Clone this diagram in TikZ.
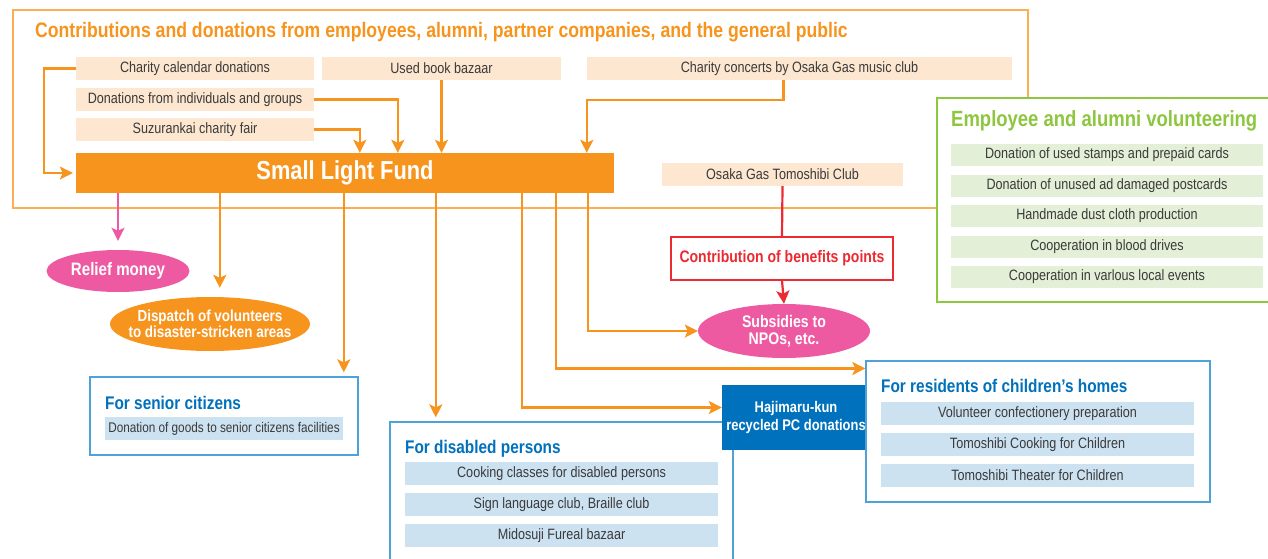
\documentclass[tikz,border=0pt]{standalone}
\usepackage{fontspec}
\setmainfont{Liberation Sans}[FakeStretch=0.84]
\usetikzlibrary{arrows.meta,calc,positioning,shapes.geometric}
\definecolor{fundorange}{HTML}{F7941D}
\definecolor{frameorange}{HTML}{FAAE55}
\definecolor{peach}{HTML}{FDE7D0}
\definecolor{reliefpink}{HTML}{EE5AA1}
\definecolor{benefitred}{HTML}{EC2A32}
\definecolor{volgreen}{HTML}{8DC63F}
\definecolor{volgreenl}{HTML}{E4EFD7}
\definecolor{kidblue}{HTML}{0071BC}
\definecolor{kidbluebd}{HTML}{4FA2D8}
\definecolor{kidbluel}{HTML}{CDE2F1}
\definecolor{txtgray}{HTML}{3A3A3A}
\newcommand\fsz[1]{\fontsize{#1}{#1}\selectfont}

\begin{document}
\begin{tikzpicture}[x=1pt,y=-1pt,>={Stealth[length=13pt,width=13pt,inset=3pt]},
  src/.style={fill=peach,inner sep=0pt,minimum height=23,text=txtgray,font=\fsz{15}},
  vol/.style={fill=volgreenl,inner sep=0pt,minimum width=312,minimum height=22,text=txtgray,font=\fsz{15}},
  kid/.style={fill=kidbluel,inner sep=0pt,minimum height=23,text=txtgray,font=\fsz{15}},
  group/.style={draw=kidbluebd,fill=white,line width=1.3pt,inner sep=0pt},
  ghead/.style={anchor=west,inner sep=0pt,text=kidblue,font=\fsz{18.3}\bfseries},
  blob/.style={ellipse,inner sep=0pt,text=white,align=center,font=\fsz{16.8}\bfseries},
  arr/.style={->,fundorange,line width=2.4pt},
  parr/.style={->,reliefpink,line width=2.4pt},
  rarr/.style={->,benefitred,line width=2.2pt}]
  \useasboundingbox (0,0) rectangle (1268,559);
  % contributions frame
  \draw[frameorange,line width=1.4pt] (13,10) rectangle (1028,208);
  \node[anchor=west,inner sep=0pt,text=fundorange,font=\fsz{21}\bfseries](title) at (35,32)
    {Contributions and donations from employees, alumni, partner companies, and the general public};
  \node[src,minimum width=238](cal) at (195,68.5) {Charity calendar donations};
  \node[src,minimum width=239](used) at (441.5,68.5) {Used book bazaar};
  \node[src,minimum width=425](concert) at (799.5,68.5) {Charity concerts by Osaka Gas music club};
  \node[src,minimum width=238](ind) at (195,99.5) {Donations from individuals and groups};
  \node[src,minimum width=238](suz) at (195,129.5) {Suzurankai charity fair};
  \node[fill=fundorange,inner sep=0pt,minimum width=538,minimum height=40,text=white,
        font=\fsz{26}\bfseries](fund) at (345,173) {Small Light Fund};
  \draw[arr,shorten >=3pt] (cal.west) -- ++(-32,0) |- (fund.west);
  \draw[arr] (ind.east) -| ([xshift=322]fund.north west);
  \draw[arr] (suz.east) -| ([xshift=284]fund.north west);
  \draw[arr] (used.south) -- (used.south |- fund.north);
  \draw[arr] ([xshift=-16]concert.south) -- ++(0,20) -| (concert.west |- fund.north);
  % volunteering
  \node[draw=volgreen,fill=white,line width=1.3pt,inner sep=0pt,minimum width=360,
        minimum height=204](volbox) at (1117,200) {};
  \node[anchor=west,inner sep=0pt,text=volgreen,font=\fsz{22}\bfseries](volhead) at (951,121)
    {Employee and alumni volunteering};
  \node[vol](v1) at (1107,155) {Donation of used stamps and prepaid cards};
  \node[vol](v2) at (1107,185.5) {Donation of unused ad damaged postcards};
  \node[vol](v3) at (1107,216) {Handmade dust cloth production};
  \node[vol](v4) at (1107,246.5) {Cooperation in blood drives};
  \node[vol](v5) at (1107,277) {Cooperation in varlous local events};
  % points
  \node[src,minimum width=241](tomo) at (782.5,174.5) {Osaka Gas Tomoshibi Club};
  \node[draw=benefitred,fill=white,line width=1.3pt,inner sep=0pt,minimum width=222,
        minimum height=43,text=benefitred,font=\fsz{16.7}\bfseries](benefit) at (782,258.5)
    {Contribution of benefits points};
  \node[blob,fill=reliefpink,minimum width=172,minimum height=54](subsidy) at (784,331)
    {Subsidies to\\NPOs, etc.};
  \draw[benefitred,line width=2.2pt] (tomo.south) -- (benefit.north);
  \draw[rarr] (benefit.south) -- (subsidy.north);
  % support
  \node[blob,fill=reliefpink,minimum width=143,minimum height=42,font=\fsz{18}\bfseries](relief)
    at (118,271) {Relief money};
  \node[blob,fill=fundorange,inner xsep=-15pt,minimum width=200,minimum height=54,
        font=\fsz{16}\bfseries](dispatch) at (210,324)
    {Dispatch of volunteers\\to disaster-stricken areas};
  \node[group,minimum width=268,minimum height=78](senior) at (224,416) {};
  \node[ghead](seniorhead) at (105,403) {For senior citizens};
  \node[kid,minimum width=238,font=\fsz{14}](s1) at (224,428.5) {Donation of goods to senior citizens facilities};
  \node[group,minimum width=343,minimum height=160](disabled) at (561.5,502) {};
  \node[ghead](disabledhead) at (405,449) {For disabled persons};
  \node[kid,minimum width=313](d1) at (561.5,473.5) {Cooking classes for disabled persons};
  \node[kid,minimum width=313](d2) at (561.5,504.5) {Sign language club, Braille club};
  \node[kid,minimum width=313](d3) at (561.5,535.5) {Midosuji Fureal bazaar};
  \node[fill=kidblue,inner sep=0pt,minimum width=148,minimum height=65,text=white,align=center,
        font=\fsz{15.4}\bfseries](pc) at (796,417.5) {Hajimaru-kun\\[2pt]recycled PC donations};
  \node[group,minimum width=344,minimum height=141](homes) at (1038,431.5) {};
  \node[ghead](homeshead) at (881,386) {For residents of children’s homes};
  \node[kid,minimum width=313](h1) at (1037.5,413.5) {Volunteer confectionery preparation};
  \node[kid,minimum width=313](h2) at (1037.5,444.5) {Tomoshibi Cooking for Children};
  \node[kid,minimum width=313](h3) at (1037.5,475.5) {Tomoshibi Theater for Children};
  \draw[parr,shorten >=9pt] (relief.north |- fund.south) -- (relief.north);
  \draw[arr,shorten >=9pt] ([xshift=144]fund.south west) coordinate(o2) -- (o2 |- dispatch.north);
  \draw[arr,shorten >=4pt] ([xshift=268]fund.south west) coordinate(o3) -- (o3 |- senior.north);
  \draw[arr,shorten >=4pt] ([xshift=360]fund.south west) coordinate(o4) -- (o4 |- disabled.north);
  \draw[arr] ([xshift=446]fund.south west) |- ([yshift=10]pc.west);
  \draw[arr] ([xshift=480]fund.south west) |- ([yshift=63]homes.west);
  \draw[arr] ([xshift=512]fund.south west) |- (subsidy.west);
\end{tikzpicture}
\end{document}
